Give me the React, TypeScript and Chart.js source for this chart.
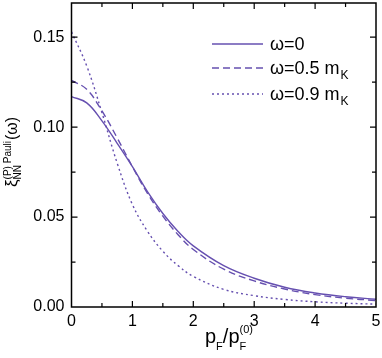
import React, { useEffect, useRef } from "react";
import { Chart, registerables } from "chart.js";

Chart.register(...registerables);

const xValues = [0, 0.25, 0.5, 0.75, 1, 1.25, 1.5, 1.75, 2, 2.5, 3, 3.5, 4, 4.5, 5];
const omega0 = [0.117, 0.1135, 0.1035, 0.091, 0.078, 0.064, 0.052, 0.042, 0.034, 0.023, 0.016, 0.011, 0.0078, 0.0057, 0.0043];
const omega05 = [0.126, 0.121, 0.109, 0.094, 0.078, 0.063, 0.0505, 0.0402, 0.032, 0.021, 0.0145, 0.0100, 0.0069, 0.0049, 0.0036];
const omega09 = [0.153, 0.134, 0.108, 0.080, 0.057, 0.042, 0.031, 0.023, 0.017, 0.0098, 0.0063, 0.0042, 0.0029, 0.0021, 0.0016];
const seriesLabels = ["ω=0", "ω=0.5 m", "ω=0.9 m"];
const seriesSubs = ["", "K", "K"];
const xTicks = [0, 1, 2, 3, 4, 5];
const yTicks = [0, 0.05, 0.1, 0.15];

const COLOR = "#6650b0";
const FONT = "'Liberation Sans', Arial, sans-serif";
const dashes = [[], [7, 4], [2, 3]];

function drawRich(ctx: CanvasRenderingContext2D, parts: { t: string; size: number; dy: number; group?: number }[]) {
  let x = 0;
  let groupStart = 0;
  let groupMax = 0;
  let lastGroup: number | undefined = undefined;
  for (const p of parts) {
    ctx.font = `${p.size}px ${FONT}`;
    if (p.group !== undefined) {
      if (lastGroup !== p.group) {
        groupStart = x;
        groupMax = 0;
        lastGroup = p.group;
      }
      ctx.fillText(p.t, groupStart, p.dy);
      groupMax = Math.max(groupMax, ctx.measureText(p.t).width);
      x = groupStart + groupMax + 1;
    } else {
      lastGroup = undefined;
      ctx.fillText(p.t, x, p.dy);
      x += ctx.measureText(p.t).width;
    }
  }
}

const framePlugin = {
  id: "frame",
  afterDraw(chart: any) {
    const ctx: CanvasRenderingContext2D = chart.ctx;
    const { left, right, top, bottom } = chart.chartArea;
    const xs = chart.scales.x;
    const ys = chart.scales.y;
    ctx.save();
    ctx.strokeStyle = "#000";
    ctx.lineWidth = 1.5;
    ctx.strokeRect(left, top, right - left, bottom - top);
    ctx.lineWidth = 1.2;
    ctx.beginPath();
    for (let v = 0.5; v < 5; v += 0.5) {
      const px = xs.getPixelForValue(v);
      const len = Math.abs(v - Math.round(v)) < 1e-6 ? 6 : 4;
      ctx.moveTo(px, bottom);
      ctx.lineTo(px, bottom - len);
      ctx.moveTo(px, top);
      ctx.lineTo(px, top + len);
    }
    for (let v = 0.025; v < 0.168; v += 0.025) {
      const py = ys.getPixelForValue(v);
      const major = Math.abs(v / 0.05 - Math.round(v / 0.05)) < 1e-6;
      const len = major ? 6 : 4;
      ctx.moveTo(left, py);
      ctx.lineTo(left + len, py);
      ctx.moveTo(right, py);
      ctx.lineTo(right - len, py);
    }
    ctx.stroke();

    // legend
    const rows = [44, 68, 94];
    chart.data.datasets.forEach((ds: any, i: number) => {
      ctx.strokeStyle = COLOR;
      ctx.lineWidth = 1.4;
      ctx.setLineDash(dashes[i]);
      ctx.beginPath();
      ctx.moveTo(212, rows[i]);
      ctx.lineTo(263, rows[i]);
      ctx.stroke();
      ctx.setLineDash([]);
      ctx.fillStyle = "#000";
      ctx.textBaseline = "alphabetic";
      ctx.font = `18px ${FONT}`;
      const tx = 270;
      const by = rows[i] + 6;
      ctx.fillText(seriesLabels[i], tx, by);
      const w = ctx.measureText(seriesLabels[i]).width;
      if (seriesSubs[i]) {
        ctx.font = `12px ${FONT}`;
        ctx.fillText(seriesSubs[i], tx + w + 1, by + 5);
      }
    });

    // x title
    ctx.fillStyle = "#000";
    ctx.textBaseline = "alphabetic";
    ctx.save();
    ctx.translate(205, 343);
    drawRich(ctx, [
      { t: "p", size: 20, dy: 0 },
      { t: "F", size: 11, dy: 7 },
      { t: "/p", size: 20, dy: 0 },
      { t: "(0)", size: 11, dy: -10, group: 1 },
      { t: "F", size: 11, dy: 7, group: 1 },
    ]);
    ctx.restore();

    // y title
    ctx.save();
    ctx.translate(16.5, 187);
    ctx.rotate(-Math.PI / 2);
    drawRich(ctx, [
      { t: "ξ", size: 17, dy: 0 },
      { t: "(P) Pauli", size: 10, dy: -6, group: 2 },
      { t: "NN", size: 10, dy: 4, group: 2 },
      { t: "(ω)", size: 16, dy: 0 },
    ]);
    ctx.restore();
    ctx.restore();
  },
};

const zeroPad = (s: any) => {
  s.paddingTop = 0;
  s.paddingBottom = 0;
  s.paddingLeft = 0;
  s.paddingRight = 0;
};

export default function App() {
  const ref = useRef<HTMLCanvasElement>(null);
  useEffect(() => {
    if (!ref.current) return;
    const mk = (vals: number[]) => xValues.map((x, i) => ({ x, y: vals[i] }));
    const chart = new Chart(ref.current, {
      type: "line",
      data: {
        datasets: [omega0, omega05, omega09].map((vals, i) => ({
          label: seriesLabels[i] + seriesSubs[i],
          data: mk(vals),
          borderColor: COLOR,
          borderWidth: 1.4,
          borderDash: dashes[i],
          pointRadius: 0,
          tension: 0.4,
          fill: false,
        })),
      },
      options: {
        animation: false,
        responsive: false,
        layout: { padding: { left: 0, top: 3, right: 6, bottom: 0 } },
        plugins: { legend: { display: false }, tooltip: { enabled: false } },
        scales: {
          x: {
            type: "linear",
            min: 0,
            max: 5,
            grid: { display: false, drawTicks: false },
            border: { display: false },
            afterBuildTicks: (s: any) => {
              s.ticks = xTicks.map((v) => ({ value: v }));
            },
            ticks: { color: "#000", font: { size: 16, family: FONT }, padding: 5, maxRotation: 0, callback: (v: any) => String(v) },
            afterFit: (s: any) => {
              s.height = 51;
              zeroPad(s);
            },
          },
          y: {
            type: "linear",
            min: 0,
            max: 0.169,
            grid: { display: false, drawTicks: false },
            border: { display: false },
            afterBuildTicks: (s: any) => {
              s.ticks = yTicks.map((v) => ({ value: v }));
            },
            ticks: { color: "#000", font: { size: 16, family: FONT }, padding: 7, callback: (v: any) => Number(v).toFixed(2) },
            afterFit: (s: any) => {
              s.width = 71.5;
              zeroPad(s);
            },
          },
        },
      },
      plugins: [framePlugin],
    });
    return () => chart.destroy();
  }, []);
  return (
    <div style={{ position: "absolute", left: 0, top: 0, width: 382, height: 358, background: "#fff" }}>
      <canvas ref={ref} width={382} height={358} style={{ display: "block" }} />
    </div>
  );
}
